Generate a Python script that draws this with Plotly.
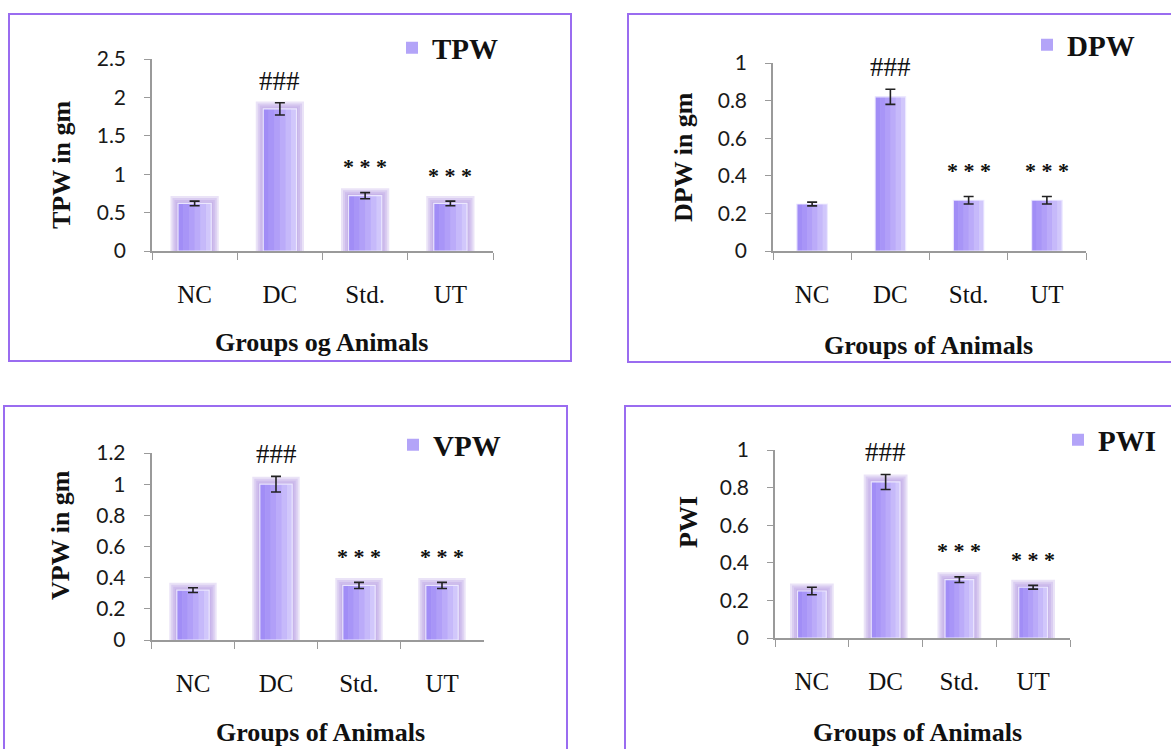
import plotly.graph_objects as go

W, H = 1171, 749

groups = ["NC", "DC", "Std.", "UT"]
tpw = [0.62, 1.85, 0.72, 0.62]
tpw_err = [0.03, 0.08, 0.04, 0.03]
dpw = [0.25, 0.82, 0.27, 0.27]
dpw_err = [0.01, 0.04, 0.02, 0.02]
vpw = [0.32, 1.00, 0.35, 0.35]
vpw_err = [0.015, 0.05, 0.02, 0.02]
pwi = [0.25, 0.83, 0.31, 0.27]
pwi_err = [0.02, 0.04, 0.015, 0.01]
marks = ["", "###", "* * *", "* * *"]

panels = [
    dict(name="TPW", y=tpw, err=tpw_err, ytitle="TPW in gm", xtitle="Groups og Animals",
         yr=2.5, dtick=0.5, glow=True,
         plot=(152, 493, 59, 251), box=(9, 571, 14, 361),
         xt=(322, 343), yt=(62, 165), leg=(412, 48)),
    dict(name="DPW", y=dpw, err=dpw_err, ytitle="DPW in gm", xtitle="Groups of Animals",
         yr=1.0, dtick=0.2, glow=False,
         plot=(773, 1086, 63, 251), box=(628, 1180, 14, 362),
         xt=(928, 345), yt=(684, 157), leg=(1047, 45)),
    dict(name="VPW", y=vpw, err=vpw_err, ytitle="VPW in gm", xtitle="Groups of Animals",
         yr=1.2, dtick=0.2, glow=True,
         plot=(151.5, 483.5, 453, 640), box=(4, 567, 406, 760),
         xt=(320, None), yt=(60, 535), leg=(413, 445)),
    dict(name="PWI", y=pwi, err=pwi_err, ytitle="PWI", xtitle="Groups of Animals",
         yr=1.0, dtick=0.2, glow=True,
         plot=(775, 1070, 450, 638), box=(625, 1180, 406, 760),
         xt=(917, None), yt=(688, 522), leg=(1078, 440)),
]

BAND_COLORS = ["#a18df6", "#a895f7", "#b19ff8", "#bbabf9", "#c6b9fa", "#d1c7fb"]
LEGEND_COLOR = "#b3a4f8"
GLOW = "rgba(168,136,220,0.24)"
GLOW_WIDTHS = [15, 11, 7, 3]
AX_COLOR = "#9a9a9a"
SERIF = "Liberation Serif"
SANS = "Lato"
BAR_W = 0.39

fig = go.Figure()
layout = dict(width=W, height=H, margin=dict(l=0, r=0, t=0, b=0, autoexpand=False),
              paper_bgcolor="white", plot_bgcolor="white",
              barmode="overlay", showlegend=True, shapes=[], annotations=[])


def px_x(v):
    return v / W


def px_y(v):
    return 1 - v / H


for i, p in enumerate(panels):
    k = "" if i == 0 else str(i + 1)
    xa, ya = "x" + k, "y" + k
    leg = "legend" + k
    x0, x1, y0, y1 = p["plot"]
    if p["glow"]:
        for lw in GLOW_WIDTHS:
            fig.add_trace(go.Bar(x=groups, y=p["y"], xaxis=xa, yaxis=ya, width=BAR_W,
                                 marker=dict(color="rgba(0,0,0,0)", line=dict(color=GLOW, width=lw)),
                                 showlegend=False, hoverinfo="skip", legend=leg))
    # main bar (carries the legend entry)
    fig.add_trace(go.Bar(x=groups, y=p["y"], xaxis=xa, yaxis=ya, width=BAR_W, name=p["name"],
                         marker=dict(color=LEGEND_COLOR, line=dict(width=0)),
                         legend=leg))
    # horizontal gradient bands across each bar
    nb = len(BAND_COLORS)
    for j, c in enumerate(BAND_COLORS):
        fig.add_trace(go.Bar(x=groups, y=p["y"], xaxis=xa, yaxis=ya,
                             width=BAR_W / nb, offset=-BAR_W / 2 + j * BAR_W / nb,
                             marker=dict(color=c, line=dict(width=0)),
                             showlegend=False, hoverinfo="skip", legend=leg))
    # light edge
    fig.add_trace(go.Bar(x=groups, y=p["y"], xaxis=xa, yaxis=ya, width=BAR_W,
                         marker=dict(color="rgba(0,0,0,0)",
                                     line=dict(color="rgba(240,236,255,0.9)", width=1.2)),
                         showlegend=False, hoverinfo="skip", legend=leg))
    # error bars
    fig.add_trace(go.Scatter(x=groups, y=p["y"], xaxis=xa, yaxis=ya, mode="markers",
                             marker=dict(size=1, opacity=0),
                             error_y=dict(type="data", array=p["err"], visible=True,
                                          color="#222222", thickness=1.6, width=5),
                             showlegend=False, hoverinfo="skip", legend=leg))
    layout["xaxis" + k] = dict(domain=[px_x(x0), px_x(x1)], anchor=ya, type="category",
                               showline=True, linecolor=AX_COLOR, linewidth=1.5,
                               ticks="outside", tickson="boundaries", ticklen=7,
                               tickcolor=AX_COLOR, tickwidth=1.2,
                               tickfont=dict(family=SERIF, size=25, color="#111111"),
                               ticklabelstandoff=20, showgrid=False, zeroline=False,
                               fixedrange=True)
    layout["yaxis" + k] = dict(domain=[px_y(y1), px_y(y0)], anchor=xa,
                               range=[0, p["yr"]], dtick=p["dtick"], tick0=0,
                               showline=True, linecolor=AX_COLOR, linewidth=1.5,
                               ticks="outside", ticklen=6, tickcolor=AX_COLOR, tickwidth=1.2,
                               tickfont=dict(family=SANS, size=21, color="#1a1a1a"),
                               ticklabelstandoff=14,
                               showgrid=False, zeroline=False, fixedrange=True)
    bx0, bx1, by0, by1 = p["box"]
    layout["shapes"].append(dict(type="rect", xref="paper", yref="paper",
                                 x0=px_x(bx0), x1=px_x(bx1), y0=px_y(by1), y1=px_y(by0),
                                 line=dict(color="#9a6cf0", width=2), layer="below"))
    # axis titles
    tx, ty = p["xt"]
    if ty is None:
        ypos, yanc = 0, "bottom"
    else:
        ypos, yanc = px_y(ty), "middle"
    layout["annotations"].append(dict(text=p["xtitle"], xref="paper", yref="paper",
                                      x=px_x(tx), y=ypos,
                                      xanchor="center", yanchor=yanc, showarrow=False,
                                      font=dict(family=SERIF, size=26, color="#111111", weight="bold")))
    layout["annotations"].append(dict(text=p["ytitle"], xref="paper", yref="paper",
                                      x=px_x(p["yt"][0]), y=px_y(p["yt"][1]), textangle=-90,
                                      xanchor="center", yanchor="middle", showarrow=False,
                                      font=dict(family=SERIF, size=26, color="#111111", weight="bold")))
    # significance marks
    for g, v, e, m in zip(groups, p["y"], p["err"], marks):
        if not m:
            continue
        is_hash = m.startswith("#")
        layout["annotations"].append(dict(text=m, xref=xa, yref=ya, x=g, y=v + e,
                                          xanchor="center", yanchor="middle", showarrow=False,
                                          yshift=22 if is_hash else 26,
                                          font=dict(family=SERIF, size=27 if is_hash else 22,
                                                    color="#111111",
                                                    weight="normal" if is_hash else "bold")))
    lx, ly = p["leg"]
    layout[leg] = dict(x=px_x(lx - 20), y=px_y(ly), xanchor="left", yanchor="middle",
                       xref="paper", yref="paper", bgcolor="rgba(0,0,0,0)",
                       font=dict(family=SERIF, size=29, color="#111111", weight="bold"))

fig.update_layout(**layout)
fig.write_html("out.html", config={"displayModeBar": False},
               post_script="document.body.style.margin='0';")
